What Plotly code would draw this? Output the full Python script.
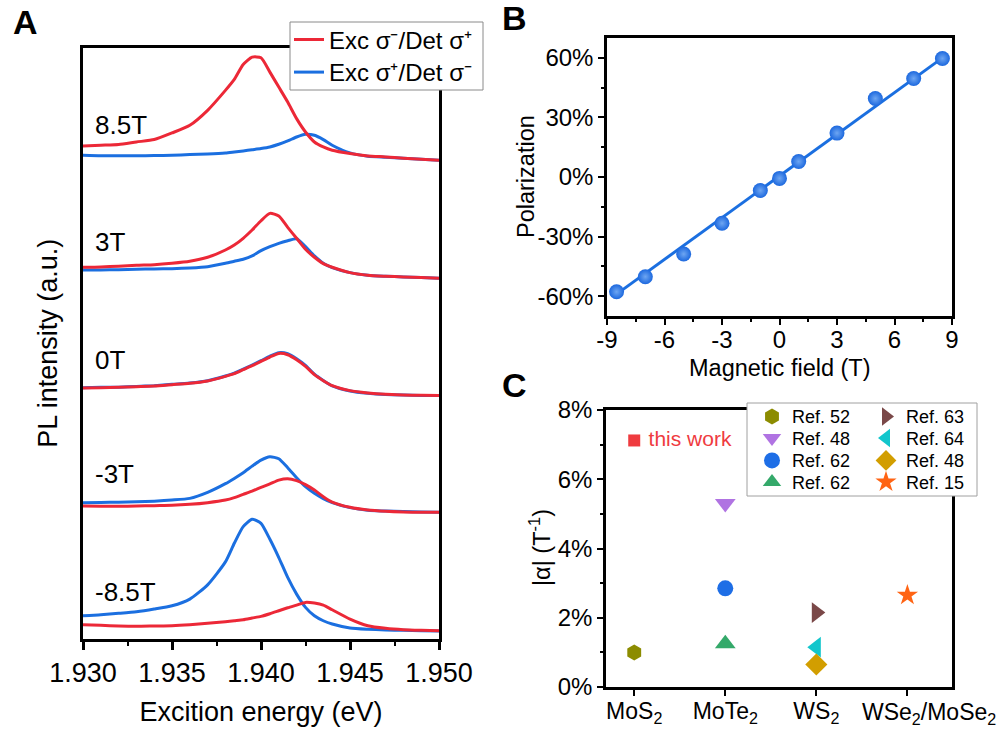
import plotly.graph_objects as go

FONT = "Liberation Sans, Arial, Helvetica, sans-serif"
RED = "#EC2837"
BLUE = "#1B6FE0"

# ---------------- Panel A data (PL spectra, arbitrary units incl. offset) ----------------
energy = [1.930, 1.931, 1.932, 1.933, 1.934, 1.935, 1.936, 1.937, 1.938, 1.9385,
          1.939, 1.9395, 1.940, 1.9405, 1.941, 1.9415, 1.942, 1.9425, 1.943, 1.9435,
          1.944, 1.945, 1.946, 1.947, 1.948, 1.949, 1.950]

red_85 = [494.3, 495, 495.7, 498.3, 500.7, 507.3, 515, 530, 550, 561,
          576, 583.3, 582.7, 568.3, 553.3, 538.3, 521.7, 508.3, 498.3, 493.3,
          490, 486.7, 484.3, 483.3, 482, 481, 480]
blue_85 = [485, 484.5, 484.5, 484.5, 484.7, 485, 485.7, 486.3, 487.3, 488.3,
           489.3, 490.5, 491.7, 493.3, 496, 499.3, 503.3, 506, 505, 500.7,
           495, 487.3, 484, 483, 482, 481, 480]

red_3 = [372.7, 373, 373.7, 374.7, 375.3, 376.7, 378.7, 382.7, 390, 395,
         401.7, 410, 419.3, 426.7, 424, 412.7, 401.7, 390.7, 382.7, 376.3,
         372.7, 367.3, 364.7, 363.7, 363, 362.3, 361.7]
blue_3 = [370, 370, 370.3, 370.7, 371, 371.3, 372, 373.3, 376.7, 378.7,
          380.7, 384, 389.3, 393.3, 396.7, 399.3, 401.3, 393.3, 384, 376.7,
          372.3, 367.3, 364.7, 363.7, 363, 362.3, 361.7]

red_0 = [251.7, 252, 252.3, 253, 253.7, 255, 256.3, 258.7, 263.3, 266,
         270, 274, 278.3, 282.7, 286.3, 285, 280, 273.3, 265, 259,
         254, 249, 246.7, 245.3, 244.7, 244.3, 244]
blue_0 = [252, 252.3, 252.5, 253.2, 254, 255.3, 256.7, 259, 263.7, 266.5,
          270.5, 274.7, 279, 283.5, 287, 286, 281, 274.3, 265.5, 259.2,
          253.8, 248.7, 246.3, 245, 244.5, 244.2, 244]

blue_m3 = [136.7, 136.8, 137.2, 137.5, 138.2, 139.3, 141, 147, 155.7, 161,
           166.7, 173.3, 179.3, 182.7, 180.7, 171.7, 161.7, 152.7, 146, 140.7,
           136.7, 131.7, 129, 128.3, 127.7, 127.3, 127]
red_m3 = [133.3, 133, 133, 133.3, 133.7, 134, 135, 136.7, 139.3, 141.7,
          145, 148.3, 152, 155.5, 159.3, 160.7, 158.7, 154.7, 149.3, 142.7,
          137.3, 132, 129.3, 128, 127.3, 127, 127]

blue_m85 = [23.3, 24.3, 25.7, 27.3, 30, 33.3, 40, 54.3, 77.3, 96,
            112.7, 120, 116, 100, 81.7, 61.7, 45, 31.7, 23.3, 18.3,
            15, 11, 9.7, 9, 8.7, 8.3, 8]
red_m85 = [14.3, 13.7, 13, 12.7, 13, 13.3, 14.3, 15.7, 17.3, 18.3,
           19.3, 21, 22.7, 25.3, 28.3, 31.3, 34, 36.7, 36, 34,
           29.3, 20, 13.3, 10.7, 9.3, 8.7, 8.3]

field_labels = ["8.5T", "3T", "0T", "-3T", "-8.5T"]
field_label_y = [515, 398, 280, 165, 47]
field_label_x = 1.93056

# ---------------- Panel B data ----------------
field_T = [-8.5, -7, -5, -3, -1, 0, 1, 3, 5, 7, 8.5]
polarization = [-57.8, -50.2, -38.8, -23.3, -6.8, -0.7, 7.8, 22.1, 39.5, 49.6, 59.7]
fit_x = [-8.5, 8.5]
fit_y = [-59.0, 60.0]
b_xticks = [-9, -6, -3, 0, 3, 6, 9]
b_xticktext = ["-9", "-6", "-3", "0", "3", "6", "9"]
b_yticks = [-60, -30, 0, 30, 60]
b_yticktext = ["-60%", "-30%", "0%", "30%", "60%"]

# ---------------- Panel C data ----------------
materials = ["MoS2", "MoTe2", "WS2", "WSe2/MoSe2"]
material_ticktext = ["MoS<sub>2</sub>", "MoTe<sub>2</sub>", "WS<sub>2</sub>", ""]
last_material_label = "WSe<sub>2</sub>/MoSe<sub>2</sub>"
this_work_x = "MoS2"
this_work_y = 7.12
ref_names = ["Ref. 52", "Ref. 63", "Ref. 48", "Ref. 64", "Ref. 62", "Ref. 48", "Ref. 62", "Ref. 15"]
ref_material = ["MoS2", "WS2", "MoTe2", "WS2", "MoTe2", "WS2", "MoTe2", "WSe2/MoSe2"]
ref_alpha = [1.0, 2.15, 5.3, 1.15, 2.85, 0.65, 1.25, 2.65]
ref_symbols = ["hexagon", "triangle-right", "triangle-down", "triangle-left",
               "circle", "diamond", "triangle-up", "star"]
ref_colors = ["#8C8C00", "#7A4848", "#B073E2", "#12C6CC",
              "#1E6EE6", "#D29E00", "#34A96A", "#FF6414"]
ref_sizes = [16, 18, 18, 18, 16, 17, 18, 16]
ref_legend = ["legend2", "legend2", "legend3", "legend3", "legend4", "legend4", "legend5", "legend5"]
legend_row_y = [416.7, 438.3, 460.7, 482.3]

fig = go.Figure()

# Panel A traces
pairs = [(red_85, blue_85), (red_3, blue_3), (red_0, blue_0), (red_m3, blue_m3), (red_m85, blue_m85)]
for i, (r, b) in enumerate(pairs):
    fig.add_trace(go.Scatter(x=energy, y=b, mode="lines", line=dict(color=BLUE, width=3, shape="spline", smoothing=0.6),
                             name="Exc σ\u207a/Det σ\u207b", legendgroup="b", showlegend=(i == 0),
                             legend="legend6", xaxis="x", yaxis="y"))
    fig.add_trace(go.Scatter(x=energy, y=r, mode="lines", line=dict(color=RED, width=3, shape="spline", smoothing=0.6),
                             name="Exc σ\u207b/Det σ\u207a", legendgroup="r", showlegend=(i == 0),
                             legend="legend", xaxis="x", yaxis="y"))

# Panel B traces
fig.add_trace(go.Scatter(x=fit_x, y=fit_y, mode="lines", line=dict(color=BLUE, width=3),
                         showlegend=False, xaxis="x2", yaxis="y2"))
fig.add_trace(go.Scatter(x=field_T, y=polarization, mode="markers",
                         marker=dict(size=15, color="#1C68DE",
                                     gradient=dict(type="radial", color="#6EA6F2")),
                         showlegend=False, xaxis="x2", yaxis="y2"))

# Panel C traces
fig.add_trace(go.Scatter(x=[this_work_x], y=[this_work_y], mode="markers+text",
                         marker=dict(symbol="square", size=12, color="#EF3B3F"),
                         text=[" this work"], textposition="middle right",
                         textfont=dict(size=21, color="#EF3B3F", family=FONT),
                         showlegend=False, xaxis="x3", yaxis="y3"))
for n, m, a, s, c, sz, lg in zip(ref_names, ref_material, ref_alpha, ref_symbols, ref_colors, ref_sizes, ref_legend):
    fig.add_trace(go.Scatter(x=[m], y=[a], mode="markers", name=n,
                             marker=dict(symbol=s, size=sz, color=c, line=dict(width=0)),
                             legend=lg, xaxis="x3", yaxis="y3"))

axis_common = dict(showgrid=False, zeroline=False, showline=True, mirror=True, automargin=False,
                   linecolor="black", ticks="outside", tickcolor="black")

row_legend = dict(orientation="h", x=752 / 1001, xanchor="left", yanchor="middle",
                  bgcolor="rgba(0,0,0,0)", borderwidth=0, font=dict(size=18),
                  entrywidth=69, entrywidthmode="pixels")
a_legend = dict(x=289 / 1001, xanchor="left", yanchor="middle", bgcolor="rgba(0,0,0,0)",
                borderwidth=0, font=dict(size=24), itemwidth=30)

fig.update_layout(
    width=1001, height=729,
    margin=dict(l=0, r=0, t=0, b=0, autoexpand=False),
    paper_bgcolor="white", plot_bgcolor="white",
    font=dict(family=FONT, color="black"),
    xaxis=dict(domain=[83 / 1001, 439 / 1001], range=[1.930, 1.950], tick0=1.930, dtick=0.005,
               tickformat=".3f", linewidth=3, ticklen=8, tickwidth=2.5,
               minor=dict(ticks="outside", dtick=0.0025, ticklen=4, tickwidth=2, tickcolor="black"),
               tickfont=dict(size=27), title=dict(text="Excition energy (eV)", font=dict(size=27)),
               anchor="y", **axis_common),
    yaxis=dict(domain=[90 / 729, 681.5 / 729], range=[0, 593], showticklabels=False, linewidth=3,
               title=dict(text="PL intensity (a.u.)", font=dict(size=27)),
               anchor="x", **{k: v for k, v in axis_common.items() if k != "ticks"}, ticks=""),
    xaxis2=dict(domain=[607 / 1001, 952 / 1001], range=[-9, 9], tickmode="array",
                tickvals=b_xticks, ticktext=b_xticktext,
                linewidth=2.5, ticklen=6, tickwidth=2,
                minor=dict(ticks="outside", tick0=0, dtick=1.5, ticklen=3, tickwidth=1.5, tickcolor="black"),
                tickfont=dict(size=24), anchor="y2", **axis_common),
    yaxis2=dict(domain=[413 / 729, 691 / 729], range=[-70, 70], tickmode="array",
                tickvals=b_yticks, ticktext=b_yticktext,
                linewidth=2.5, ticklen=6, tickwidth=2,
                minor=dict(ticks="outside", tick0=0, dtick=15, ticklen=3, tickwidth=1.5, tickcolor="black"),
                tickfont=dict(size=24), anchor="x2", **axis_common),
    xaxis3=dict(domain=[606 / 1001, 952 / 1001], type="category", categoryorder="array", categoryarray=materials,
                tickmode="array", tickvals=materials, ticktext=material_ticktext,
                range=[-0.31, 3.49], linewidth=2.5, ticklen=6, tickwidth=2, tickangle=0,
                tickfont=dict(size=23), anchor="y3", **axis_common),
    yaxis3=dict(domain=[42 / 729, 319 / 729], range=[0, 8], tick0=0, dtick=2, ticksuffix="%",
                linewidth=2.5, ticklen=6, tickwidth=2,
                minor=dict(ticks="outside", dtick=1, ticklen=3, tickwidth=1.5, tickcolor="black"),
                tickfont=dict(size=24), anchor="x3", **axis_common),
    legend=dict(a_legend, y=(729 - 40) / 729),
    legend6=dict(a_legend, y=(729 - 72.5) / 729),
    legend2=dict(row_legend, y=(729 - legend_row_y[0]) / 729),
    legend3=dict(row_legend, y=(729 - legend_row_y[1]) / 729),
    legend4=dict(row_legend, y=(729 - legend_row_y[2]) / 729),
    legend5=dict(row_legend, y=(729 - legend_row_y[3]) / 729),
    shapes=[dict(type="rect", xref="paper", yref="paper", x0=747 / 1001, x1=977 / 1001,
                 y0=(729 - 496) / 729, y1=(729 - 403) / 729, fillcolor="white",
                 line=dict(color="#a0a0a0", width=1), layer="above"),
            dict(type="rect", xref="paper", yref="paper", x0=290 / 1001, x1=483 / 1001,
                 y0=(729 - 90) / 729, y1=(729 - 22) / 729, fillcolor="white",
                 line=dict(color="#8a8a8a", width=1), layer="above")],
    showlegend=True,
)

try:
    fig.update_layout(xaxis3=dict(ticklabelstandoff=-4), xaxis2=dict(ticklabelstandoff=-6))
except Exception:
    pass

annotations = []
for lab, ly in zip(field_labels, field_label_y):
    annotations.append(dict(x=field_label_x, y=ly, xref="x", yref="y", text=lab, showarrow=False,
                            xanchor="left", yanchor="middle", font=dict(size=26)))
for lab, px, py in [("A", 25, 22), ("B", 514, 18), ("C", 514, 385)]:
    annotations.append(dict(x=px / 1001, y=(729 - py) / 729, xref="paper", yref="paper", text="<b>%s</b>" % lab,
                            showarrow=False, xanchor="center", yanchor="middle", font=dict(size=34)))
# axis titles of panels B and C, and the shifted last category label of panel C
annotations.append(dict(x=780 / 1001, y=(729 - 368) / 729, xref="paper", yref="paper", text="Magnetic field (T)",
                        showarrow=False, xanchor="center", yanchor="middle", font=dict(size=23.5)))
annotations.append(dict(x=526 / 1001, y=(729 - 177) / 729, xref="paper", yref="paper", text="Polarization",
                        showarrow=False, xanchor="center", yanchor="middle", textangle=-90, font=dict(size=23.5)))
annotations.append(dict(x=540 / 1001, y=(729 - 548) / 729, xref="paper", yref="paper", text="|α| (T<sup>-1</sup>)",
                        showarrow=False, xanchor="center", yanchor="middle", textangle=-90, font=dict(size=23.5)))
annotations.append(dict(x=929 / 1001, y=(729 - 713) / 729, xref="paper", yref="paper", text=last_material_label,
                        showarrow=False, xanchor="center", yanchor="middle", font=dict(size=23)))
fig.update_layout(annotations=annotations)

fig.write_html("out.html")
